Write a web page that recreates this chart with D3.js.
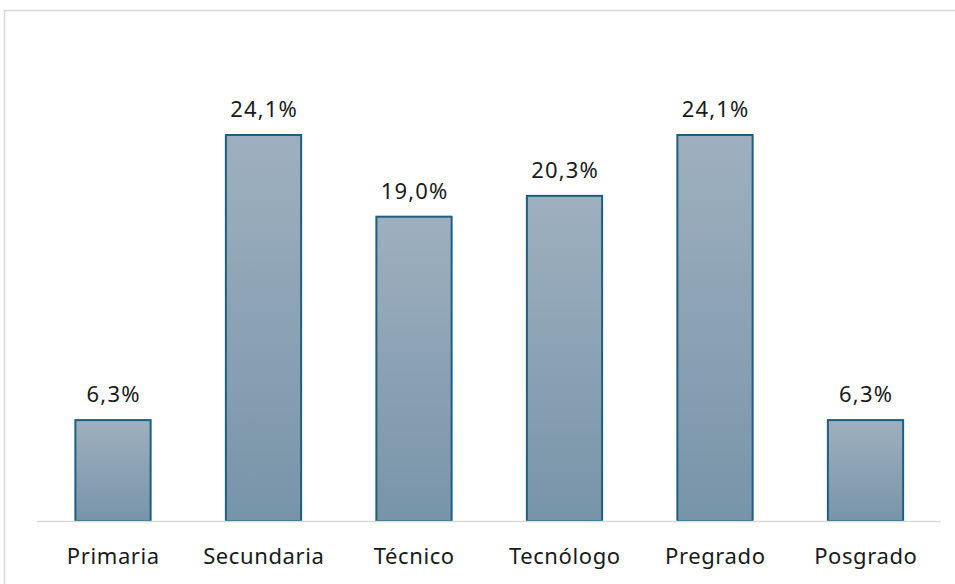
<!DOCTYPE html>
<html><head><meta charset="utf-8">
<script src="https://cdn.jsdelivr.net/npm/d3@7/dist/d3.min.js"></script>
<style>body{margin:0;background:#fff}svg{display:block}</style>
</head><body>
<svg id="c" width="955" height="584"></svg>
<script>
const categories = ["Primaria","Secundaria","Técnico","Tecnólogo","Pregrado","Posgrado"];
const values = [6.3,24.1,19.0,20.3,24.1,6.3];
const labels = ["6,3%","24,1%","19,0%","20,3%","24,1%","6,3%"];

const svg = d3.select("#c");
svg.append("rect").attr("x",4.5).attr("y",10.5).attr("width",960).attr("height",600)
  .attr("fill","#fff").attr("stroke","#d9d9d9").attr("stroke-width",1.5);

const defs = svg.append("defs");
const g = defs.append("linearGradient").attr("id","bg").attr("x1",0).attr("y1",0).attr("x2",0).attr("y2",1);
g.append("stop").attr("offset","0%").attr("stop-color","#9eb0bf");
g.append("stop").attr("offset","100%").attr("stop-color","#7894a9");

const x = d3.scaleBand().domain(categories).range([37.75,940.75]).paddingInner(0.5).paddingOuter(0.25);
const y = d3.scaleLinear().domain([0,24.1]).range([521,135]);

svg.selectAll("rect.bar").data(values).join("rect").attr("class","bar")
  .attr("x",(d,i)=>x(categories[i])).attr("y",d=>y(d))
  .attr("width",x.bandwidth()).attr("height",d=>y(0)-y(d))
  .attr("fill","url(#bg)").attr("stroke","#1e5f80").attr("stroke-width",2);

svg.append("line").attr("x1",37).attr("x2",941).attr("y1",521.5).attr("y2",521.5)
  .attr("stroke","#d9d9d9").attr("stroke-width",1.5);

svg.selectAll("text.val").data(values).join("text").attr("class","val")
  .attr("x",(d,i)=>x(categories[i])+x.bandwidth()/2+0.6).attr("y",d=>y(d)-18)
  .attr("text-anchor","middle").attr("font-family","Noto Sans, sans-serif").attr("font-size",22)
  .attr("letter-spacing",1.2).attr("fill","#1a1a1a").text((d,i)=>labels[i]);

svg.selectAll("text.cat").data(categories).join("text").attr("class","cat")
  .attr("x",d=>x(d)+x.bandwidth()/2+0.3).attr("y",564)
  .attr("text-anchor","middle").attr("font-family","Noto Sans, sans-serif").attr("font-size",22)
  .attr("letter-spacing",0.6).attr("fill","#1a1a1a").text(d=>d);
</script>
</body></html>
